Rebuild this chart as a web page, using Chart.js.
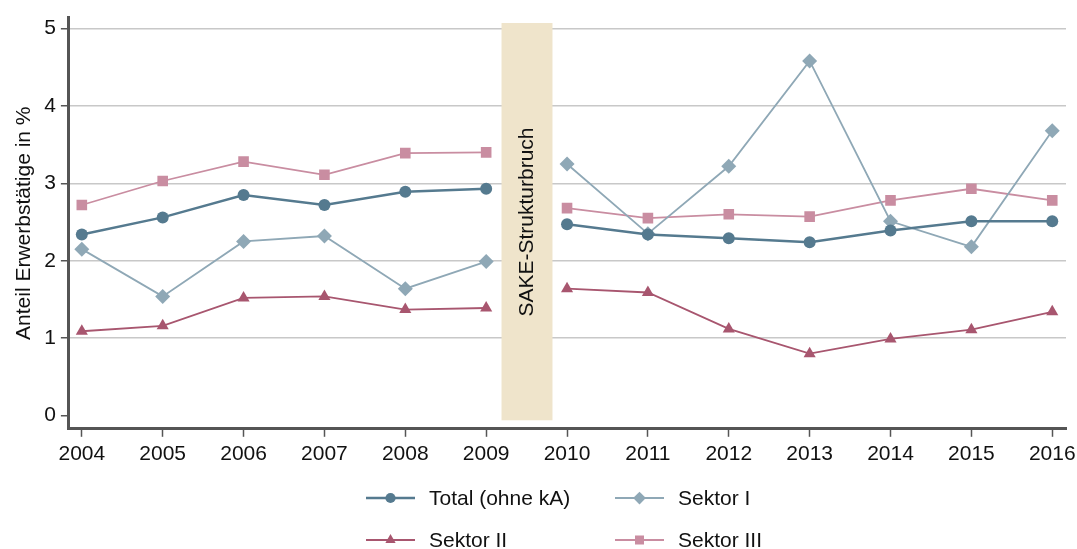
<!DOCTYPE html>
<html>
<head>
<meta charset="utf-8">
<script src="https://cdn.jsdelivr.net/npm/chart.js@4.4.0/dist/chart.umd.min.js"></script>
<style>
    html, body { margin: 0; padding: 0; background: #fff; }
    #wrap { width: 1077px; height: 549px; position: relative; }
</style>
</head>
<body>
<div id="wrap"><canvas id="chart"></canvas></div>
<script>
// =========================
// DATOS
// =========================
const years = [2004, 2005, 2006, 2007, 2008, 2009, 2010, 2011, 2012, 2013, 2014, 2015, 2016];
const total   = [2.34, 2.56, 2.85, 2.72, 2.89, 2.93, 2.47, 2.34, 2.29, 2.24, 2.39, 2.51, 2.51];
const sektor1 = [2.15, 1.54, 2.25, 2.32, 1.64, 1.99, 3.25, 2.35, 3.22, 4.58, 2.51, 2.18, 3.68];
const sektor2 = [1.09, 1.16, 1.52, 1.54, 1.37, 1.39, 1.64, 1.59, 1.12, 0.80, 0.99, 1.11, 1.34];
const sektor3 = [2.72, 3.03, 3.28, 3.11, 3.39, 3.40, 2.68, 2.55, 2.60, 2.57, 2.78, 2.93, 2.78];
const yTicks = [0, 1, 2, 3, 4, 5];
const seriesNames = ["Total (ohne kA)", "Sektor I", "Sektor II", "Sektor III"];
const yTitle = "Anteil Erwerbstätige in %";
const breakLabel = "SAKE-Strukturbruch";
const breakAfter = 2009;

// =========================
// ESTILO
// =========================
const FONT = "'Liberation Sans', Arial, sans-serif";
const TEXT_COLOR = "#111111";
const AXIS_COLOR = "#555555";
const colors = ["#557a8f", "#8fa8b6", "#a8566f", "#c98da1"];
const styles = ["circle", "rectRot", "triangle", "rect"];
const radii = [6, 7.5, 7, 7.5];
const widths = [2.5, 1.8, 1.8, 1.8];

// linea cortada en el salto de serie
function toPoints(vals) {
    const pts = [];
    years.forEach((yr, i) => {
        pts.push({ x: yr, y: vals[i] });
        if (yr === breakAfter) pts.push({ x: yr + 0.5, y: null });
    });
    return pts;
}

const datasets = [total, sektor1, sektor2, sektor3].map((vals, i) => ({
    label: seriesNames[i],
    data: toPoints(vals),
    borderColor: colors[i],
    backgroundColor: colors[i],
    borderWidth: widths[i],
    pointStyle: styles[i],
    pointRadius: radii[i],
    pointBorderWidth: 0,
    pointBackgroundColor: colors[i],
    spanGaps: false,
    tension: 0
}));
// total arriba
datasets[0].order = -1;

// =========================
// PLUGINS
// =========================
const breakBand = {
    id: "breakBand",
    beforeDatasetsDraw(chart) {
        const { ctx, scales: { x, y } } = chart;
        const x0 = x.getPixelForValue(breakAfter + 0.19);
        const x1 = x.getPixelForValue(breakAfter + 0.82);
        const y0 = y.getPixelForValue(5.07);
        const y1 = y.getPixelForValue(-0.06);
        ctx.save();
        ctx.fillStyle = "#efe4cb";
        ctx.fillRect(x0, y0, x1 - x0, y1 - y0);
        ctx.translate((x0 + x1) / 2, y.getPixelForValue(2.5));
        ctx.rotate(-Math.PI / 2);
        ctx.fillStyle = TEXT_COLOR;
        ctx.font = "21px " + FONT;
        ctx.textAlign = "center";
        ctx.textBaseline = "middle";
        ctx.fillText(breakLabel, 0, 0);
        ctx.restore();
    }
};

const bottomLegend = {
    id: "bottomLegend",
    afterDraw(chart) {
        const ctx = chart.ctx;
        const cols = [366, 615];
        const rows = [498, 540];
        ctx.save();
        ctx.font = "21px " + FONT;
        ctx.textBaseline = "middle";
        ctx.textAlign = "left";
        chart.data.datasets.forEach((ds, i) => {
            const lx = cols[i % 2];
            const ly = rows[Math.floor(i / 2)];
            ctx.strokeStyle = ds.borderColor;
            ctx.fillStyle = ds.borderColor;
            ctx.lineWidth = ds.borderWidth;
            ctx.beginPath();
            ctx.moveTo(lx, ly);
            ctx.lineTo(lx + 49, ly);
            ctx.stroke();
            Chart.helpers.drawPoint(ctx, {
                pointStyle: ds.pointStyle,
                radius: ds.pointRadius * 0.85,
                rotation: 0,
                borderWidth: 0
            }, lx + 24.5, ly);
            ctx.fillStyle = TEXT_COLOR;
            ctx.fillText(ds.label, lx + 63, ly + 1);
        });
        ctx.restore();
    }
};

// =========================
// CHART
// =========================
new Chart(document.getElementById("chart"), {
    type: "line",
    data: { datasets },
    options: {
        responsive: true,
        maintainAspectRatio: false,
        animation: false,
        layout: { padding: { left: 12, right: 11, top: 11, bottom: 77 } },
        plugins: {
            legend: { display: false },
            tooltip: { enabled: false }
        },
        scales: {
            x: {
                type: "linear",
                min: 2003.84,
                max: 2016.17,
                afterBuildTicks: s => { s.ticks = years.map(v => ({ value: v })); },
                // la etiqueta 2016 puede salir del area
                afterFit: s => { s.paddingRight = 0; },
                ticks: {
                    color: TEXT_COLOR,
                    font: { family: FONT, size: 21 },
                    padding: 5,
                    maxRotation: 0,
                    autoSkip: false,
                    callback: v => String(v)
                },
                grid: {
                    drawOnChartArea: false,
                    drawTicks: true,
                    tickLength: 8,
                    tickWidth: 1.5,
                    tickColor: AXIS_COLOR
                },
                border: { display: true, color: AXIS_COLOR, width: 3 }
            },
            y: {
                min: -0.17,
                max: 5.14,
                afterBuildTicks: s => { s.ticks = yTicks.map(v => ({ value: v })); },
                ticks: {
                    color: TEXT_COLOR,
                    font: { family: FONT, size: 21 },
                    padding: 5,
                    callback: v => String(v)
                },
                grid: {
                    color: c => (c.tick && c.tick.value === 0) ? "rgba(0,0,0,0)" : "#c8c8c8",
                    lineWidth: 1.5,
                    drawTicks: true,
                    tickLength: 8,
                    tickWidth: 1.5,
                    tickColor: AXIS_COLOR
                },
                border: { display: true, color: AXIS_COLOR, width: 3 },
                title: {
                    display: true,
                    text: yTitle,
                    color: TEXT_COLOR,
                    font: { family: FONT, size: 21 },
                    padding: { top: 0, bottom: 2 }
                }
            }
        }
    },
    plugins: [breakBand, bottomLegend]
});
</script>
</body>
</html>
